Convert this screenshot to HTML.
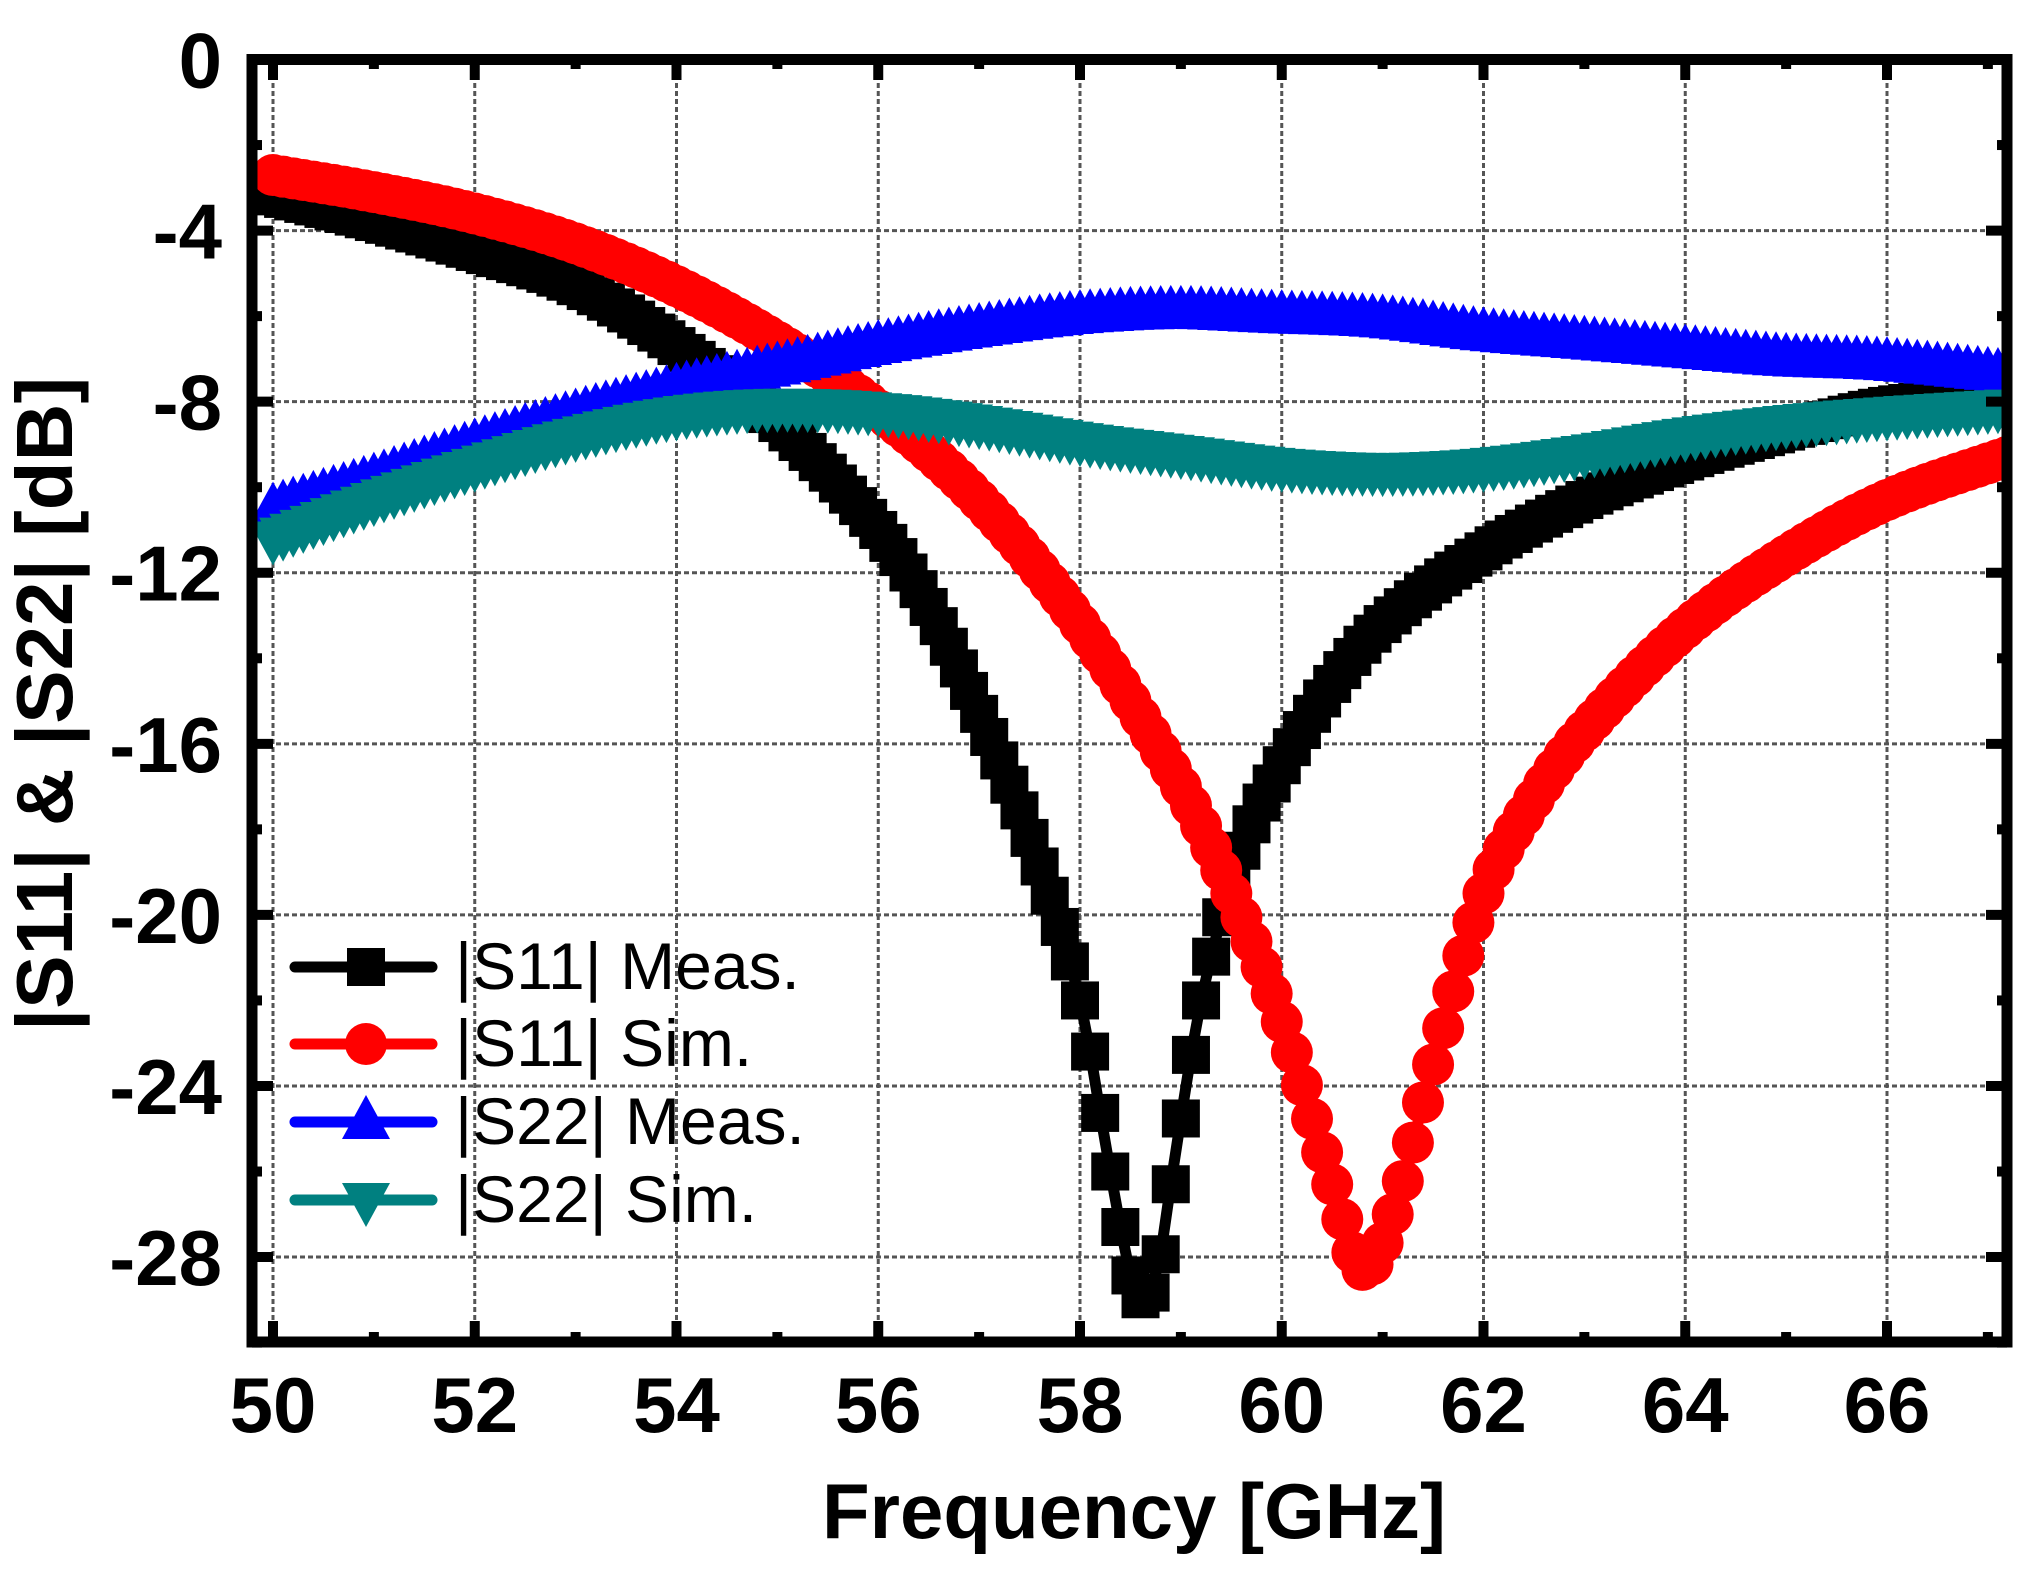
<!DOCTYPE html>
<html><head><meta charset="utf-8"><style>
html,body{margin:0;padding:0;background:#fff;}
svg{display:block;}
text{font-family:"Liberation Sans",Arial,sans-serif;}
</style></head><body>
<svg id="s" width="2034" height="1580" viewBox="0 0 2034 1580" xmlns="http://www.w3.org/2000/svg">
<defs><clipPath id="c"><rect x="252" y="59" width="1755" height="1283"/></clipPath></defs>
<g id="grid"></g>
<g id="data" clip-path="url(#c)"></g>
<g id="axes"></g>
<g id="legend"></g>
<g font-weight="bold" font-size="78" fill="#000" id="labels"></g>
<text x="1134" y="1538" font-size="78" font-weight="bold" text-anchor="middle">Frequency [GHz]</text>
<text transform="translate(72,704) rotate(-90)" font-size="80" font-weight="bold" text-anchor="middle">|S11| &amp; |S22| [dB]</text>
</svg>
<script>
var NS="http://www.w3.org/2000/svg";
function X(f){return 273+(f-50)*100.875;}
function Y(v){return 59.5-v*42.77;}
function el(p,t,a){var e=document.createElementNS(NS,t);for(var k in a)e.setAttribute(k,a[k]);p.appendChild(e);return e;}
var grid=document.getElementById('grid'),axes=document.getElementById('axes'),labels=document.getElementById('labels'),data=document.getElementById('data'),leg=document.getElementById('legend');
for(var f=50;f<=66;f+=2){el(grid,'line',{x1:X(f),x2:X(f),y1:59,y2:1342,stroke:'#555','stroke-width':3,'stroke-dasharray':'5,3'});}
for(var v=-4;v>=-28;v-=4){el(grid,'line',{x1:252,x2:2007,y1:Y(v),y2:Y(v),stroke:'#555','stroke-width':3,'stroke-dasharray':'5,3'});}
for(var f=50;f<=67;f+=1){var L=(f%2==0)?21:10;
 el(axes,'line',{x1:X(f),x2:X(f),y1:1342,y2:1342-L,stroke:'#000','stroke-width':10});
 el(axes,'line',{x1:X(f),x2:X(f),y1:59,y2:59+L,stroke:'#000','stroke-width':10});}
for(var v=0;v>=-30;v-=2){var L=(v%4==0)?21:10;
 el(axes,'line',{x1:252,x2:252+L,y1:Y(v),y2:Y(v),stroke:'#000','stroke-width':10});
 el(axes,'line',{x1:2007,x2:2007-L,y1:Y(v),y2:Y(v),stroke:'#000','stroke-width':10});}
el(axes,'rect',{x:252,y:59.5,width:1755,height:1282.5,fill:'none',stroke:'#000','stroke-width':11});
for(var f=50;f<=66;f+=2){var t=el(labels,'text',{x:X(f),y:1432,'text-anchor':'middle'});t.textContent=f;}
for(var v=0;v>=-28;v-=4){var t=el(labels,'text',{x:222,y:Y(v)+28,'text-anchor':'end'});t.textContent=v;}
function interp(pts,f){for(var i=0;i<pts.length-1;i++){if(f<=pts[i+1][0]){var p0=pts[Math.max(i-1,0)],p1=pts[i],p2=pts[i+1],p3=pts[Math.min(i+2,pts.length-1)];
 var t=(f-p1[0])/(p2[0]-p1[0]);var m1=(p2[1]-p0[1])/(p2[0]-p0[0])*(p2[0]-p1[0]),m2=(p3[1]-p1[1])/(p3[0]-p1[0])*(p2[0]-p1[0]);
 var t2=t*t,t3=t2*t;return (2*t3-3*t2+1)*p1[1]+(t3-2*t2+t)*m1+(-2*t3+3*t2)*p2[1]+(t3-t2)*m2;}}return pts[pts.length-1][1];}
var S=[
 {c:'#000',m:'sq',p:[[50,-3.2],[51,-3.8],[52,-4.5],[53,-5.3],[54,-6.7],[55,-8.5],[56,-11],[56.5,-12.8],[57,-15.3],[57.5,-18.2],[58,-22],[58.3,-26],[58.55,-28.8],[58.75,-28.5],[58.95,-25.5],[59.2,-22],[59.6,-18.5],[60,-16.5],[60.5,-14.6],[61,-13.2],[62,-11.5],[63,-10.3],[64,-9.4],[65,-8.7],[66,-8.1],[67.3,-7.8]]},
 {c:'#ff0000',m:'ci',p:[[50,-2.7],[51,-3.1],[52,-3.6],[53,-4.3],[54,-5.3],[55,-6.6],[56,-8.2],[57,-10.3],[58,-13.2],[59,-17],[59.5,-19.5],[60,-22.5],[60.5,-26.3],[60.8,-28.3],[61.1,-27],[61.5,-23.5],[62,-19.5],[62.5,-17.3],[63,-15.7],[64,-13.3],[65,-11.6],[66,-10.3],[67.3,-9.2]]},
 {c:'#0000ff',m:'up',p:[[50,-10.5],[51,-9.8],[52,-9],[53,-8.3],[54,-7.7],[55,-7.2],[56,-6.7],[57,-6.3],[58,-6],[59,-5.9],[60,-6],[61,-6.1],[62,-6.4],[63,-6.6],[64,-6.8],[65,-7],[66,-7.1],[67.3,-7.4]]},
 {c:'#008080',m:'dn',p:[[50,-11.2],[51,-10.3],[52,-9.5],[53,-8.8],[54,-8.3],[55,-8.1],[56,-8.2],[57,-8.5],[58,-8.9],[59,-9.2],[60,-9.5],[61,-9.6],[62,-9.5],[63,-9.2],[64,-8.8],[65,-8.5],[66,-8.3],[67.3,-8.1]]}
];
function marker(g,m,x,y,c){
 if(m=='sq')el(g,'rect',{x:x-19,y:y-19,width:38,height:38,fill:c});
 else if(m=='ci')el(g,'circle',{cx:x,cy:y,r:21,fill:c});
 else if(m=='up')el(g,'polygon',{points:(x-24)+','+(y+17)+' '+(x+24)+','+(y+17)+' '+x+','+(y-27),fill:c});
 else el(g,'polygon',{points:(x-24)+','+(y-17)+' '+(x+24)+','+(y-17)+' '+x+','+(y+27),fill:c});
}
S.forEach(function(s){var d='';var pts=[];for(var f=50;f<=67.25;f+=0.1){var v=interp(s.p,f);pts.push([X(f),Y(v)]);d+=(d?'L':'M')+X(f).toFixed(1)+','+Y(v).toFixed(1);}
 var g=el(data,'g',{});el(g,'path',{d:d,fill:'none',stroke:s.c,'stroke-width':11,'stroke-linejoin':'round'});
 pts.forEach(function(p){marker(g,s.m,p[0],p[1],s.c);});
});
var names=['|S11| Meas.','|S11| Sim.','|S22| Meas.','|S22| Sim.'];
[967,1044,1122,1200].forEach(function(y,i){var s=S[i];
 el(leg,'line',{x1:295,x2:432,y1:y,y2:y,stroke:s.c,'stroke-width':11,'stroke-linecap':'round'});
 marker(leg,s.m,366,y,s.c);
 var t=el(leg,'text',{x:455,y:y+22,'font-size':66,fill:'#000'});t.textContent=names[i];});
</script>
</body></html>
